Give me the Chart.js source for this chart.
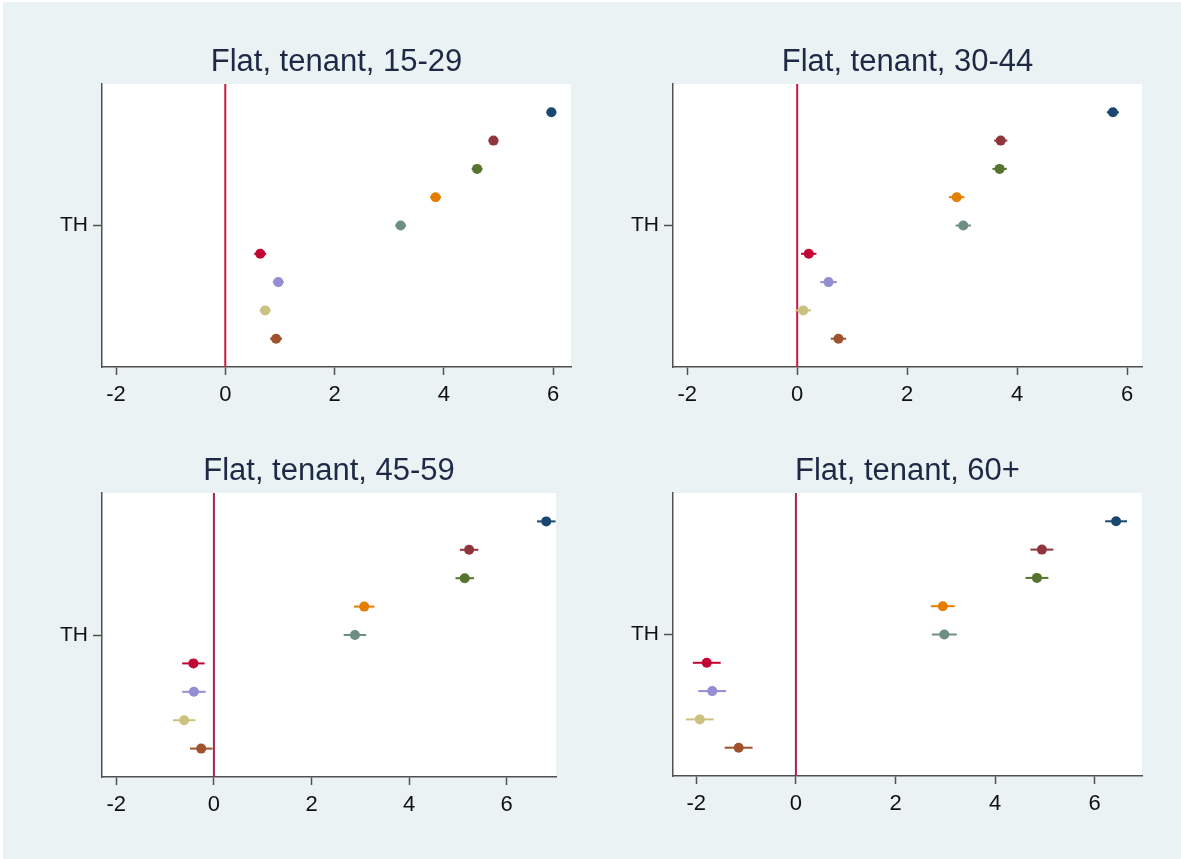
<!DOCTYPE html>
<html>
<head>
<meta charset="utf-8">
<script src="https://cdn.jsdelivr.net/npm/chart.js@4/dist/chart.umd.min.js"></script>
<style>
  html, body { margin: 0; padding: 0; background: #ffffff; width: 1181px; height: 859px; overflow: hidden; }
  #frame { position: absolute; left: 3px; top: 2px; width: 1178px; height: 857px; background: #eaf2f3; }
  canvas { position: absolute; }
</style>
</head>
<body>
<div id="frame"></div>
<canvas id="p1"></canvas>
<canvas id="p2"></canvas>
<canvas id="p3"></canvas>
<canvas id="p4"></canvas>
<script>
// Panel titles and axis labels
const panelTitles = ['Flat, tenant, 15-29', 'Flat, tenant, 30-44', 'Flat, tenant, 45-59', 'Flat, tenant, 60+'];
const rowLabels = ['TH'];
const xTickValues = [-2, 0, 2, 4, 6];
const xTickLabels = ['-2', '0', '2', '4', '6'];

// Vertical slot of each estimate (top to bottom); the labelled slot is the 5th
const rowPositions = [1, 2, 3, 4, 5, 6, 7, 8, 9];
const labelledRow = 5;

// Point estimates and confidence half-widths, one pair of arrays per age group
const est1529 = [5.97, 4.91, 4.61, 3.85, 3.21, 0.64, 0.97, 0.73, 0.93];
const ci1529  = [0.09, 0.09, 0.10, 0.10, 0.10, 0.11, 0.10, 0.10, 0.11];

const est3044 = [5.74, 3.70, 3.68, 2.90, 3.02, 0.21, 0.57, 0.11, 0.75];
const ci3044  = [0.11, 0.12, 0.13, 0.14, 0.14, 0.14, 0.15, 0.14, 0.14];

const est4559 = [6.81, 5.23, 5.14, 3.08, 2.89, -0.42, -0.41, -0.61, -0.26];
const ci4559  = [0.19, 0.19, 0.19, 0.21, 0.23, 0.23, 0.24, 0.23, 0.23];

const est60   = [6.43, 4.94, 4.84, 2.95, 2.98, -1.79, -1.68, -1.93, -1.15];
const ci60    = [0.22, 0.23, 0.23, 0.24, 0.25, 0.28, 0.28, 0.28, 0.28];

// Marker colours (Stata s2color order)
const markerColors = ['#1a476f', '#90353b', '#55752f', '#e37e00', '#6e8e84', '#c10534', '#938dd2', '#cac27e', '#a0522d'];

// Panel placement on the page: plot-area box [left, top, right, bottom] and x range
const panels = [
  { id: 'p1', title: panelTitles[0], est: est1529, ci: ci1529, box: [102, 84, 571, 367], xmin: -2.257, xmax: 6.329, refColor: '#c8193f' },
  { id: 'p2', title: panelTitles[1], est: est3044, ci: ci3044, box: [673, 84, 1142, 367], xmin: -2.258, xmax: 6.269, refColor: '#c8193f' },
  { id: 'p3', title: panelTitles[2], est: est4559, ci: ci4559, box: [102, 493, 556, 777], xmin: -2.293, xmax: 7.010, refColor: '#a8224c' },
  { id: 'p4', title: panelTitles[3], est: est60, ci: ci60, box: [673, 493, 1142, 776], xmin: -2.468, xmax: 6.950, refColor: '#a8224c' }
];

const MARGIN = { l: 62, t: 50, r: 20, b: 45 };
const FONT = "'Liberation Sans', Arial, sans-serif";
const AXIS_GREY = '#505050';

// White plot region behind the marks
const plotBackground = {
  id: 'plotBackground',
  beforeDraw(chart) {
    const { ctx, chartArea: a } = chart;
    ctx.save();
    ctx.fillStyle = '#ffffff';
    ctx.fillRect(a.left, a.top, a.right - a.left, a.bottom - a.top);
    ctx.restore();
  }
};

function buildPanel(p) {
  const canvas = document.getElementById(p.id);
  const w = p.box[2] - p.box[0];
  const h = p.box[3] - p.box[1];
  canvas.width = w + MARGIN.l + MARGIN.r;
  canvas.height = h + MARGIN.t + MARGIN.b;
  canvas.style.left = (p.box[0] - MARGIN.l) + 'px';
  canvas.style.top = (p.box[1] - MARGIN.t) + 'px';

  const datasets = [];
  // markers
  p.est.forEach((v, i) => {
    datasets.push({
      data: [{ x: v, y: rowPositions[i] }],
      backgroundColor: markerColors[i],
      borderWidth: 0,
      pointRadius: 5,
      pointHoverRadius: 5,
      order: 0
    });
  });
  // confidence intervals
  p.est.forEach((v, i) => {
    datasets.push({
      data: [{ x: v - p.ci[i], y: rowPositions[i] }, { x: v + p.ci[i], y: rowPositions[i] }],
      showLine: true,
      borderColor: markerColors[i],
      borderWidth: 2,
      pointRadius: 0,
      order: 1
    });
  });
  // reference line at zero
  datasets.push({
    data: [{ x: 0, y: 0 }, { x: 0, y: 10 }],
    showLine: true,
    borderColor: p.refColor,
    borderWidth: 2,
    pointRadius: 0,
    order: 2
  });

  new Chart(canvas, {
    type: 'scatter',
    data: { datasets },
    plugins: [plotBackground],
    options: {
      responsive: false,
      animation: false,
      events: [],
      layout: { padding: { left: 0, top: 0, right: MARGIN.r, bottom: 0 } },
      plugins: {
        legend: { display: false },
        tooltip: { enabled: false },
        title: {
          display: true,
          text: p.title,
          fullSize: false,
          color: '#1e2a45',
          font: { family: FONT, size: 31, weight: 'normal', lineHeight: 1.2 },
          padding: { top: 10.1, bottom: 2.7 }
        }
      },
      scales: {
        x: {
          type: 'linear',
          position: 'bottom',
          min: p.xmin,
          max: p.xmax,
          afterBuildTicks(scale) { scale.ticks = xTickValues.map(v => ({ value: v })); },
          afterFit(scale) { scale.height = MARGIN.b; },
          ticks: {
            autoSkip: false,
            maxRotation: 0,
            padding: 7,
            color: '#111111',
            font: { family: FONT, size: 22 },
            callback: (value, index) => xTickLabels[index]
          },
          grid: { drawOnChartArea: false, drawTicks: true, tickLength: 8, tickColor: AXIS_GREY, tickWidth: 1.5 },
          border: { display: true, color: AXIS_GREY, width: 1.5 }
        },
        y: {
          type: 'linear',
          min: 0,
          max: 10,
          reverse: true,
          afterBuildTicks(scale) { scale.ticks = [{ value: labelledRow }]; },
          afterFit(scale) { scale.width = MARGIN.l; },
          ticks: {
            padding: 5,
            color: '#111111',
            font: { family: FONT, size: 21 },
            callback: () => rowLabels[0]
          },
          grid: { drawOnChartArea: false, drawTicks: true, tickLength: 9, tickColor: AXIS_GREY, tickWidth: 1.5 },
          border: { display: true, color: AXIS_GREY, width: 1.5 }
        }
      }
    }
  });
}

panels.forEach(buildPanel);
</script>
</body>
</html>
